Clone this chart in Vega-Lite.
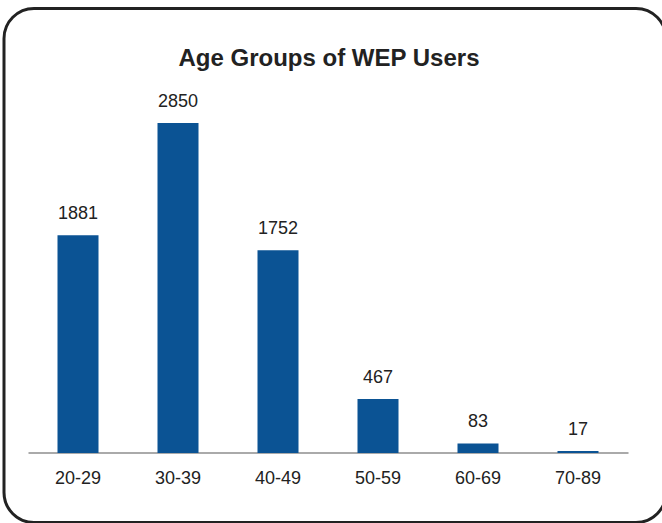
{
  "$schema": "https://vega.github.io/schema/vega-lite/v6.json",
  "autosize": "none",
  "width": 662,
  "height": 514,
  "padding": {"left": 4, "top": 8.5, "right": 0, "bottom": 0},
  "background": "white",
  "title": {
    "text": "Age Groups of WEP Users",
    "font": "Liberation Sans",
    "fontSize": 24,
    "fontWeight": "bold",
    "color": "#222222",
    "anchor": "middle",
    "frame": "group",
    "baseline": "alphabetic",
    "offset": -81,
    "dx": -6
  },
  "data": {
    "values": [
      {"age": "20-29", "users": 1881},
      {"age": "30-39", "users": 2850},
      {"age": "40-49", "users": 1752},
      {"age": "50-59", "users": 467},
      {"age": "60-69", "users": 83},
      {"age": "70-89", "users": 17}
    ]
  },
  "encoding": {
    "x": {
      "field": "age",
      "type": "nominal",
      "sort": null,
      "scale": {"range": [24, 624], "paddingInner": 0.59, "paddingOuter": 0.295},
      "axis": {
        "title": null,
        "orient": "bottom",
        "offset": -70,
        "labelAngle": 0,
        "labelFont": "Liberation Sans",
        "labelFontSize": 18,
        "labelColor": "#222222",
        "labelPadding": 17,
        "ticks": false,
        "domainColor": "#aaaaaa",
        "domainWidth": 2,
        "grid": false
      }
    },
    "y": {
      "field": "users",
      "type": "quantitative",
      "scale": {"domain": [0, 2850], "range": [444.5, 114.5], "nice": false},
      "axis": null
    }
  },
  "layer": [
    {"mark": {"type": "bar", "color": "#0b5394"}},
    {
      "mark": {
        "type": "text",
        "font": "Liberation Sans",
        "fontSize": 18,
        "color": "#222222",
        "baseline": "alphabetic",
        "dy": -16
      },
      "encoding": {"text": {"field": "users", "type": "quantitative"}}
    }
  ],
  "config": {
    "view": {"stroke": "#222222", "strokeWidth": 3, "cornerRadius": 30, "fill": "white"}
  }
}
